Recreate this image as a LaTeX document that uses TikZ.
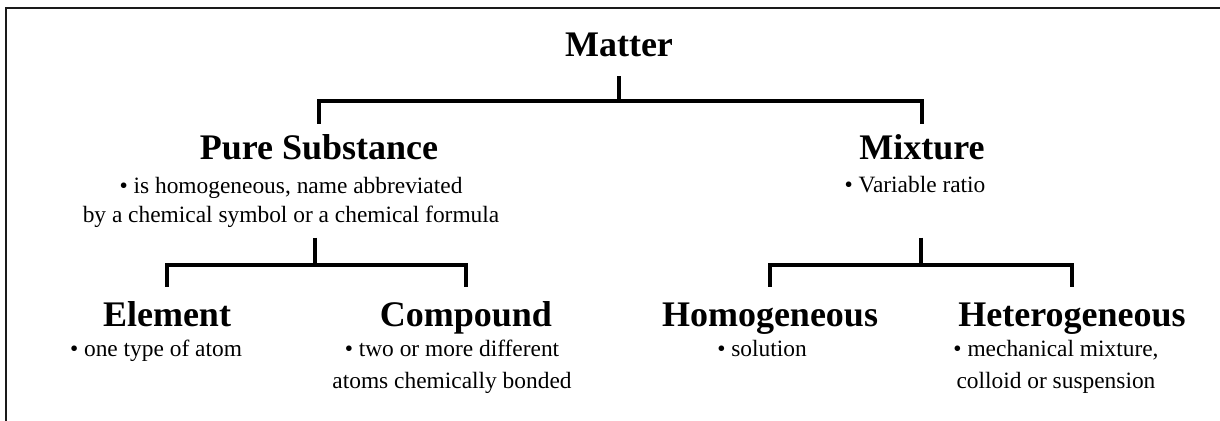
\documentclass[tikz,border=0pt]{standalone}
\usepackage{fontspec}
\setmainfont{Liberation Serif}
\usepackage{tikz}
\usetikzlibrary{positioning}
\definecolor{FRAME}{HTML}{1A1A1A}
\tikzset{
	every node/.style = {inner sep=0pt},
	title/.style = {font=\bfseries\fontsize{18}{21}\selectfont, text height=18pt, text depth=9.5pt, anchor=base},
	lowtitle/.style = {title, text height=20pt},
	desc/.style = {font=\fontsize{11.7}{14.5}\selectfont, align=center, anchor=base},
	link/.style = {line width=2pt},
	frame/.style = {line width=1.3pt, FRAME}
}
\begin{document}
\begin{tikzpicture}[x=0.5pt, y=-0.5pt]
		\useasboundingbox (0,0) rectangle (1220,421);
		% frame
		\draw[frame] (1224,8) -| (6,425);
		% titles
		\node[title] (matter) at (619,57) {Matter};
		\node[title] (pure) at (319,160) {Pure Substance};
		\node[title] (mixture) at (922,160) {Mixture};
		\node[lowtitle] (element) at (167,327) {Element};
		\node[lowtitle] (compound) at (466,327) {Compound};
		\node[lowtitle] (homog) at (770,327) {Homogeneous};
		\node[lowtitle] (heterog) at (1072,327) {Heterogeneous};
		% notes (base = last line)
		\node[desc] (puredesc) at (291,223) {• is homogeneous, name abbreviated\\by a chemical symbol or a chemical formula};
		\node[desc] (mixdesc) at (915,193) {• Variable ratio};
		\node[desc] (elemdesc) at (156,357) {• one type of atom};
		\node[desc] (compdesc) at (452,389) {• two or more different\\[1.5pt]atoms chemically bonded};
		\node[desc] (homdesc) at (762,357) {• solution};
		\node[desc] (hetdesc) at (1056,389) {• mechanical mixture,\\[1.5pt]colloid or suspension};
		% brackets
		\coordinate (purefork) at (315,238);
		\coordinate (mixfork) at (921,238);
		\draw[link] (matter.south) -- ++(0,25) -| (pure.north);
		\draw[link] (matter.south) -- ++(0,25) -| (mixture.north);
		\draw[link] (purefork) -- ++(0,27) -| (element.north);
		\draw[link] (purefork) -- ++(0,27) -| (compound.north);
		\draw[link] (mixfork) -- ++(0,27) -| (homog.north);
		\draw[link] (mixfork) -- ++(0,27) -| (heterog.north);
	\end{tikzpicture}
\end{document}
